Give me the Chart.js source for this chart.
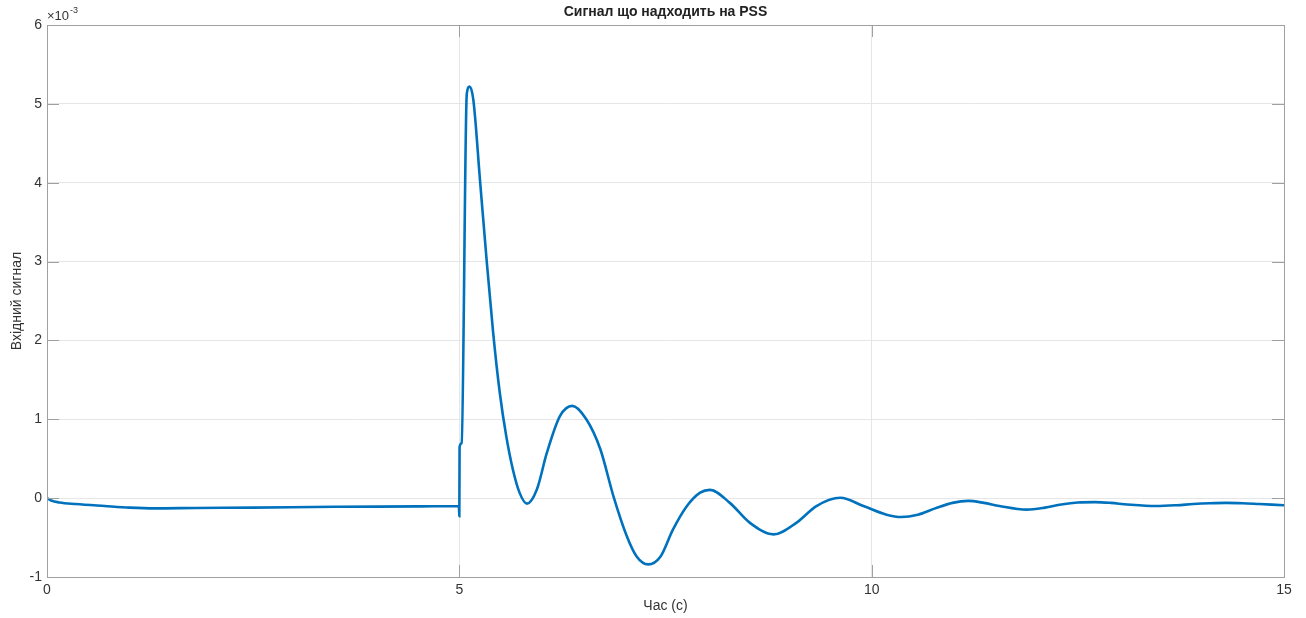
<!DOCTYPE html>
<html>
<head>
<meta charset="utf-8">
<script src="https://cdn.jsdelivr.net/npm/chart.js@4/dist/chart.umd.min.js"></script>
<style>
html,body{margin:0;padding:0;background:#fff;}
#wrap{width:1306px;height:618px;}
</style>
</head>
<body>
<div id="wrap"><canvas id="c" width="1306" height="618"></canvas></div>
<script>
// Time (s)
const timeS = [0, 0.05, 0.15, 0.35, 0.7, 1.0, 1.3, 1.8, 2.5, 3.5, 4.5, 4.995, 5.0, 5.003, 5.028, 5.09, 5.125, 5.17, 5.25, 5.33, 5.41, 5.49, 5.57, 5.65, 5.73, 5.82, 5.94, 6.06, 6.22, 6.37, 6.54, 6.71, 6.87, 7.03, 7.15, 7.29, 7.44, 7.59, 7.76, 7.92, 8.04, 8.28, 8.52, 8.81, 9.09, 9.33, 9.62, 9.9, 10.18, 10.36, 10.56, 10.77, 10.98, 11.17, 11.36, 11.55, 11.88, 12.1, 12.3, 12.5, 12.71, 12.9, 13.1, 13.45, 13.7, 13.9, 14.1, 14.3, 14.5, 14.7, 15];
// Input signal (x 10^-3)
const signalE3 = [0, -0.03, -0.055, -0.075, -0.10, -0.12, -0.13, -0.125, -0.12, -0.11, -0.105, -0.10, -0.23, 0.65, 0.70, 5.12, 5.22, 5.05, 4.04, 3.03, 2.10, 1.34, 0.78, 0.36, 0.07, -0.07, 0.11, 0.57, 1.04, 1.17, 1.0, 0.62, 0.02, -0.48, -0.74, -0.84, -0.74, -0.40, -0.10, 0.07, 0.105, -0.06, -0.31, -0.46, -0.31, -0.10, 0.005, -0.10, -0.21, -0.24, -0.21, -0.13, -0.06, -0.035, -0.06, -0.10, -0.145, -0.12, -0.08, -0.055, -0.05, -0.06, -0.08, -0.10, -0.09, -0.075, -0.065, -0.06, -0.065, -0.075, -0.09];
const xTicks = [0, 5, 10, 15];
const yTicks = [-1, 0, 1, 2, 3, 4, 5, 6];
const titleText = 'Сигнал що надходить на PSS';
const xLabel = 'Час (с)';
const yLabel = 'Вхідний сигнал';

const FONT = '"Liberation Sans", Arial, Helvetica, sans-serif';
const points = timeS.map((t, i) => ({x: t, y: signalE3[i]}));

const matlabPlugin = {
  id: 'matlabBox',
  afterDraw(chart) {
    const {ctx, chartArea: a, scales} = chart;
    ctx.save();
    ctx.strokeStyle = '#a0a0a0';
    ctx.lineWidth = 1;
    ctx.strokeRect(Math.round(a.left) + 0.5, Math.round(a.top) + 0.5, Math.round(a.right - a.left), Math.round(a.bottom - a.top));
    const L = 12;
    ctx.beginPath();
    xTicks.forEach(v => {
      const px = Math.round(scales.x.getPixelForValue(v)) + 0.5;
      ctx.moveTo(px, a.bottom); ctx.lineTo(px, a.bottom - L);
      ctx.moveTo(px, a.top); ctx.lineTo(px, a.top + L);
    });
    yTicks.forEach(v => {
      const py = Math.round(scales.y.getPixelForValue(v)) + 0.5;
      ctx.moveTo(a.left, py); ctx.lineTo(a.left + L, py);
      ctx.moveTo(a.right, py); ctx.lineTo(a.right - L, py);
    });
    ctx.stroke();
    ctx.fillStyle = '#222';
    ctx.font = 'bold 14px ' + FONT;
    ctx.textAlign = 'center';
    ctx.textBaseline = 'middle';
    ctx.fillText(titleText, (a.left + a.right) / 2, 12);
    ctx.fillStyle = '#333';
    ctx.textAlign = 'left';
    ctx.textBaseline = 'alphabetic';
    ctx.font = '13px ' + FONT;
    ctx.fillText('×10', a.left, 20);
    const w = ctx.measureText('×10').width;
    ctx.font = '9px ' + FONT;
    ctx.fillText('-3', a.left + w + 1, 13);
    ctx.restore();
  }
};

new Chart(document.getElementById('c'), {
  type: 'line',
  data: {
    datasets: [{
      data: points,
      borderColor: '#0072BD',
      borderWidth: 2.6,
      pointRadius: 0,
      fill: false,
      cubicInterpolationMode: 'monotone'
    }]
  },
  options: {
    responsive: false,
    animation: false,
    events: [],
    layout: {padding: {top: 25, right: 22, left: 0, bottom: 0}},
    plugins: {legend: {display: false}, tooltip: {enabled: false}, title: {display: false}},
    scales: {
      x: {
        type: 'linear', min: 0, max: 15,
        afterBuildTicks(s) { s.ticks = xTicks.map(v => ({value: v})); },
        afterFit(s) { s.height = 41; },
        grid: {color: '#e6e6e6', drawTicks: false, lineWidth: 1},
        border: {display: false},
        ticks: {color: '#333', font: {family: FONT, size: 14}, padding: 5, maxRotation: 0, autoSkip: false},
        title: {display: true, text: xLabel, color: '#333', font: {family: FONT, size: 14}, padding: {top: 0, bottom: 3}}
      },
      y: {
        type: 'linear', min: -1, max: 6,
        afterBuildTicks(s) { s.ticks = yTicks.map(v => ({value: v})); },
        afterFit(s) { s.width = 47; },
        grid: {color: '#e6e6e6', drawTicks: false, lineWidth: 1},
        border: {display: false},
        ticks: {color: '#333', font: {family: FONT, size: 14}, padding: 5, autoSkip: false},
        title: {display: true, text: yLabel, color: '#333', font: {family: FONT, size: 14}, padding: {top: 9, bottom: 0}}
      }
    }
  },
  plugins: [matlabPlugin]
});
</script>
</body>
</html>
